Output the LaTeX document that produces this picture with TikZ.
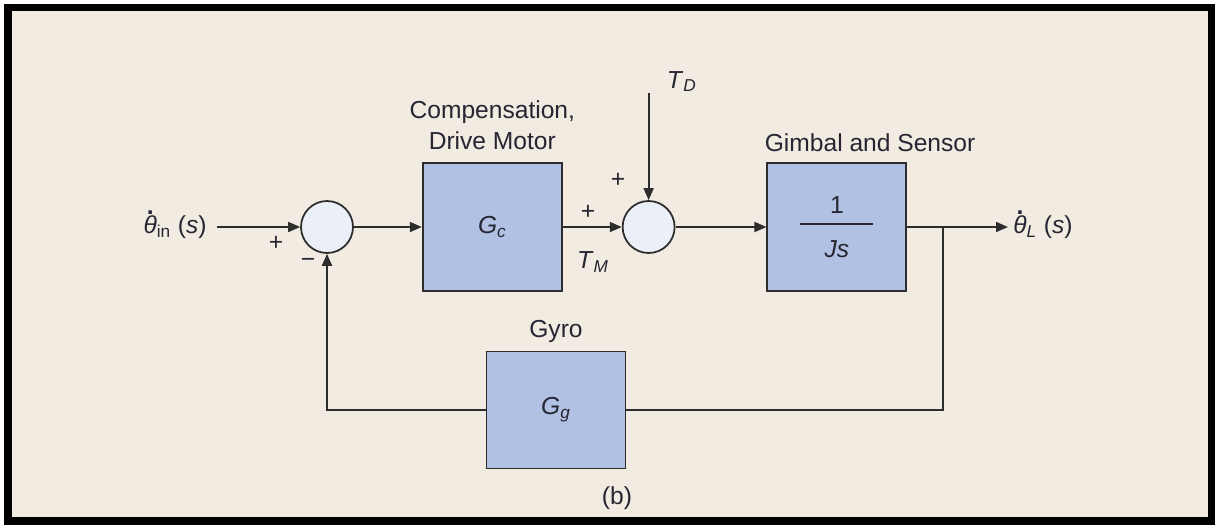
\documentclass[tikz,border=0pt]{standalone}
\usepackage{fontspec}
\setmainfont{Liberation Sans}
\usepackage{amsmath}
\usetikzlibrary{arrows.meta,positioning,calc}
\definecolor{cBack}{RGB}{241,235,226}
\definecolor{cBox}{RGB}{177,193,227}
\definecolor{cCirc}{RGB}{234,239,248}
\definecolor{cLine}{RGB}{45,45,45}
\definecolor{cText}{RGB}{38,38,50}
\newcommand{\lblfont}{\fontsize{14}{17.6}\selectfont}
\newcommand{\thd}{\ooalign{\itshape θ\cr\hidewidth\raisebox{0.78em}{\textbf{.}}\hidewidth\cr}}
\tikzset{
  blkbox/.style={rectangle,draw=cLine,line width=1.1pt,fill=cBox,
                 minimum width=2.78cm,minimum height=2.56cm,
                 font=\lblfont,text=cText},
  sumnode/.style={circle,draw=cLine,line width=1pt,fill=cCirc,
                  minimum size=1.04cm,inner sep=0pt},
  lbl/.style={font=\lblfont,text=cText,inner sep=0pt,align=center},
  ln/.style={line width=1pt,draw=cLine},
  arr/.style={->,>={Triangle[length=0.24cm,width=0.2cm]},line width=1pt,draw=cLine}
}
\begin{document}
\begin{tikzpicture}[x=0.02cm,y=-0.02cm]

  % frame
  \useasboundingbox (0,0) rectangle (1215,525);
  \fill[black] (4,4) rectangle (1215,525);
  \fill[cBack] (12,11) rectangle (1208,517);

  % blocks
  \node[sumnode] (sum1) at (327,227) {};
  \node[blkbox, right=1.36cm of sum1] (gc) {\textit{G}\textsubscript{\itshape c}};
  \node[sumnode, right=1.18cm of gc] (sum2) {};
  \node[blkbox, right=1.82cm of sum2] (gs)
      {$\genfrac{}{}{1.2pt}{0}{\mbox{1}}{\makebox[1.46cm]{\rule{0pt}{1.05em}\itshape Js}}$};
  \node[blkbox, minimum height=2.34cm] (gg) at (556,410)
      {\textit{G}\textsubscript{\itshape g}};

  \coordinate (in) at (217,227);
  \path (sum2) ++(0,-134) coordinate (td);
  \coordinate (br) at (943,227);
  \coordinate (out) at (1008,227);

  % labels
  \node[lbl, left=0.2cm of in] (inlbl) {\thd\textsubscript{in} (\textit{s})};
  \node[lbl, right=0.1cm of out] (outlbl) {\thd\textsubscript{\itshape L} (\textit{s})};
  \node[lbl, anchor=base west] (tdlbl) at ($(td)+(18,-5)$)
      {\textit{T}\textsubscript{\itshape D}};
  \node[lbl] (tmlbl) at (593,262) {\textit{T}\textsubscript{\itshape M}};
  \node[lbl, above=0.24cm of gc] (gclbl) {Compensation,\\Drive Motor};
  \node[lbl, anchor=base west] (gslbl) at ($(gs.north west)+(-2,-11)$)
      {Gimbal and Sensor};
  \node[lbl, above=0.16cm of gg] (gglbl) {Gyro};
  \node[lbl] (cap) at (617,498) {(b)};

  % signs
  \node[lbl] (p1) at (276,243) {+};
  \node[lbl] (m1) at (308,263) {−};
  \node[lbl] (p2) at (588,212) {+};
  \node[lbl] (p3) at (618,180) {+};

  % connectors
  \draw[arr] (in) -- (sum1);
  \draw[arr] (sum1) -- (gc);
  \draw[arr] (gc) -- (sum2);
  \draw[arr] (td) -- (sum2);
  \draw[arr] (sum2) -- (gs);
  \draw[arr] (gs) -- (out);
  \draw[ln] (br) |- (gg);
  \draw[arr] (gg) -| (sum1);

\end{tikzpicture}
\end{document}
